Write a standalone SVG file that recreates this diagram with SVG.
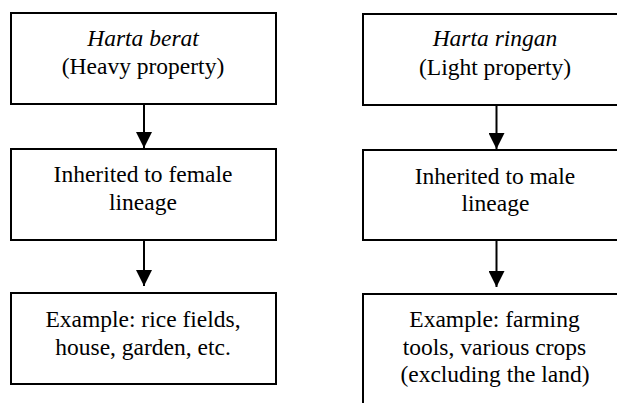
<svg xmlns="http://www.w3.org/2000/svg" width="617" height="403" viewBox="0 0 617 403">
<style>
.box{fill:#fff;stroke:#000;stroke-width:2}
.t{font-family:"Liberation Serif","Times New Roman",serif;font-size:23.5px;fill:#000;text-anchor:middle}
.i{font-style:italic}
.c{stroke:#000;stroke-width:2;fill:none}
</style>
<defs>
<marker id="ah" markerUnits="userSpaceOnUse" markerWidth="16" markerHeight="16" viewBox="0 0 14 14" refX="14" refY="7" orient="auto">
<path d="M0,0 L14,7 L0,14 Z" fill="#000"/>
</marker>
</defs>
<rect width="617" height="403" fill="#fff"/>
<g id="connectors">
<line class="c" x1="144" y1="104" x2="144" y2="148" marker-end="url(#ah)"/>
<line class="c" x1="144" y1="240" x2="144" y2="286" marker-end="url(#ah)"/>
<line class="c" x1="496.5" y1="105" x2="496.5" y2="149" marker-end="url(#ah)"/>
<line class="c" x1="496.5" y1="240" x2="496.5" y2="287" marker-end="url(#ah)"/>
</g>
<g id="heavy">
<rect class="box" x="11" y="13" width="265" height="91"/>
<text class="t i" x="143" y="46">Harta berat</text>
<text class="t" x="143" y="74">(Heavy property)</text>
</g>
<g id="female">
<rect class="box" x="11" y="149" width="265" height="91"/>
<text class="t" x="143" y="182">Inherited to female</text>
<text class="t" x="143" y="209.5">lineage</text>
</g>
<g id="heavy-example">
<rect class="box" x="11" y="293" width="265" height="91"/>
<text class="t" x="143" y="327">Example: rice fields,</text>
<text class="t" x="143" y="354.5">house, garden, etc.</text>
</g>
<g id="light">
<rect class="box" x="363" y="14" width="266" height="91"/>
<text class="t i" x="495" y="46">Harta ringan</text>
<text class="t" x="495" y="74.5">(Light property)</text>
</g>
<g id="male">
<rect class="box" x="363" y="150" width="266" height="90"/>
<text class="t" x="495" y="183.5">Inherited to male</text>
<text class="t" x="495.5" y="211">lineage</text>
</g>
<g id="light-example">
<rect class="box" x="363" y="294" width="266" height="120"/>
<text class="t" x="494.5" y="327">Example: farming</text>
<text class="t" x="494.5" y="354.5">tools, various crops</text>
<text class="t" x="495" y="382">(excluding the land)</text>
</g>
</svg>
